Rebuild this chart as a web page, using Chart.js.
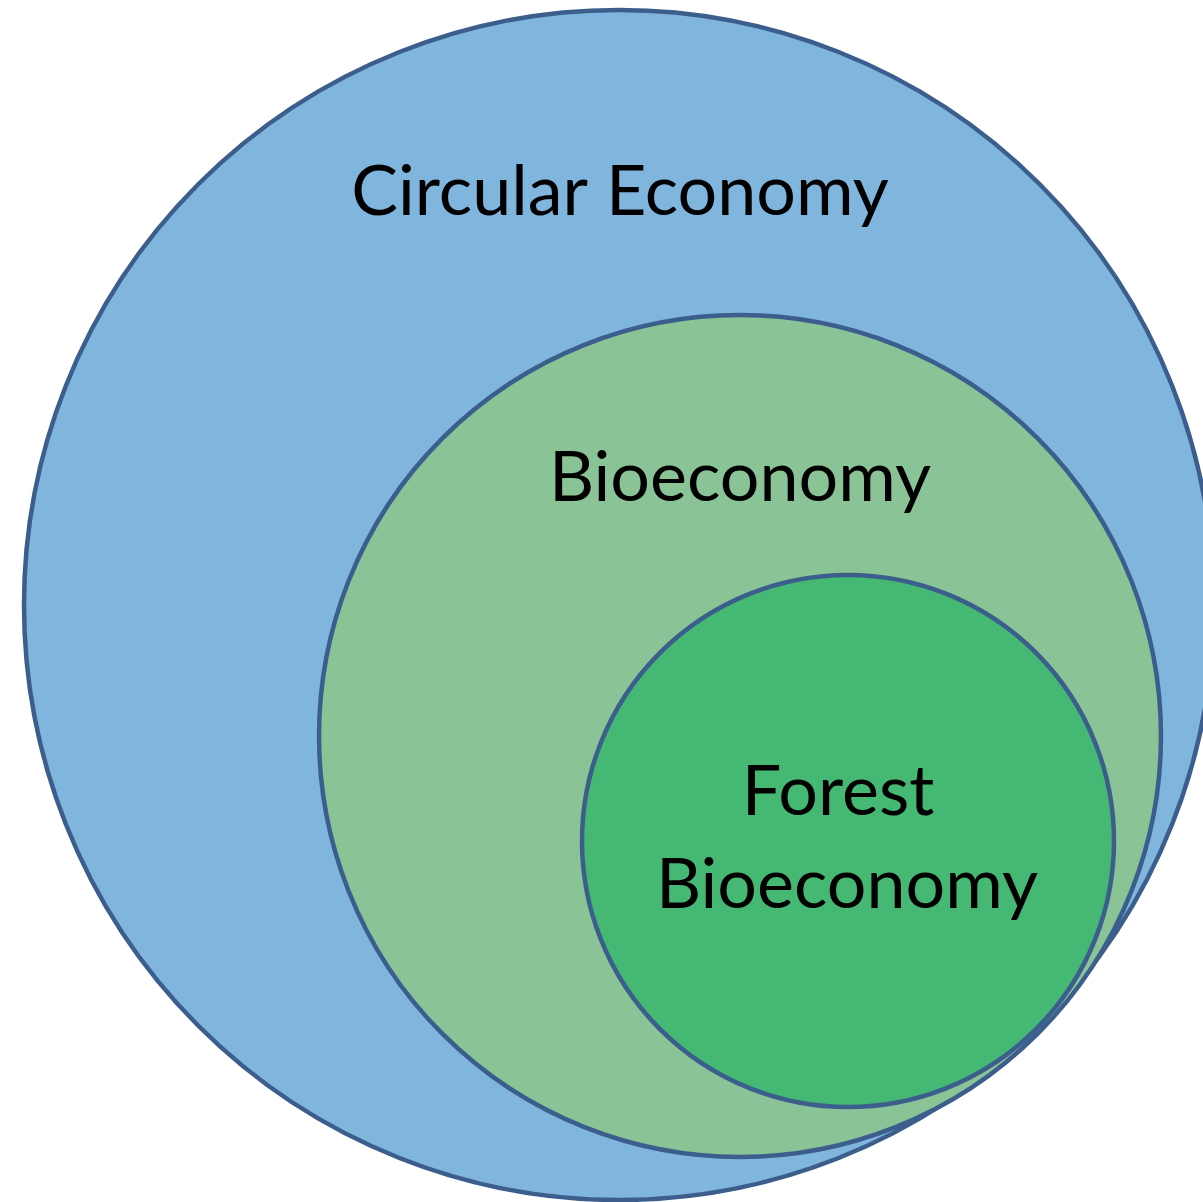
<!DOCTYPE html>
<html>
<head>
<meta charset="utf-8">
<script src="https://cdn.jsdelivr.net/npm/chart.js@4/dist/chart.umd.min.js"></script>
<style>
  html, body { margin: 0; padding: 0; background: #fff; }
  canvas { display: block; }
</style>
</head>
<body>
<canvas id="c" width="1203" height="1202"></canvas>
<script>
// Círculos aninhados: centro e raio em unidades do eixo (0..1203 x 0..1202)
const nomes = ['Circular Economy', 'Bioeconomy', 'Forest Bioeconomy'];
const centrosX = [619, 740, 848];
const centrosY = [605, 736, 841];
const raios = [595, 421, 266];
const cores = ['#80b5de', '#8ac396', '#45b873'];

// rótulos: linhas de texto, centro x e linha de base y de cada linha (unidades do eixo)
const rotulos = [
  { linhas: ['Circular Economy'], x: [620], y: [215] },
  { linhas: ['Bioeconomy'], x: [740], y: [501] },
  { linhas: ['Forest', 'Bioeconomy'], x: [838, 847], y: [815, 908] },
];

const FONTE = '70px Lato, "Open Sans", sans-serif';

const pluginRotulos = {
  id: 'rotulos',
  afterDatasetsDraw(chart) {
    const { ctx, scales: { x, y } } = chart;
    ctx.save();
    ctx.fillStyle = '#000';
    ctx.font = FONTE;
    ctx.textAlign = 'center';
    ctx.textBaseline = 'alphabetic';
    rotulos.forEach((r) => {
      r.linhas.forEach((t, i) => {
        ctx.fillText(t, x.getPixelForValue(r.x[i]), y.getPixelForValue(r.y[i]));
      });
    });
    ctx.restore();
  },
};

const grafico = new Chart(document.getElementById('c'), {
  type: 'bubble',
  data: {
    labels: nomes,
    datasets: [{
      data: centrosX.map((cx, i) => ({ x: cx, y: centrosY[i] })),
      backgroundColor: cores,
      borderColor: '#3b5e8d',
      borderWidth: 4.5,
      clip: false,
    }],
  },
  options: {
    responsive: false,
    animation: false,
    events: [],
    // sem autoPadding: senão o raio dos círculos vira margem e encolhe a área
    layout: { padding: 0, autoPadding: false },
    plugins: { legend: { display: false }, tooltip: { enabled: false } },
    scales: {
      x: { type: 'linear', min: 0, max: 1203, display: false },
      y: { type: 'linear', min: 0, max: 1202, reverse: true, display: false },
    },
  },
  plugins: [pluginRotulos],
});

// o raio do bubble é em pixels: converte o raio em unidades pela escala x
const sx = grafico.scales.x;
grafico.data.datasets[0].data.forEach((d, i) => {
  d.r = sx.getPixelForValue(centrosX[i] + raios[i]) - sx.getPixelForValue(centrosX[i]);
});
grafico.update();
</script>
</body>
</html>
